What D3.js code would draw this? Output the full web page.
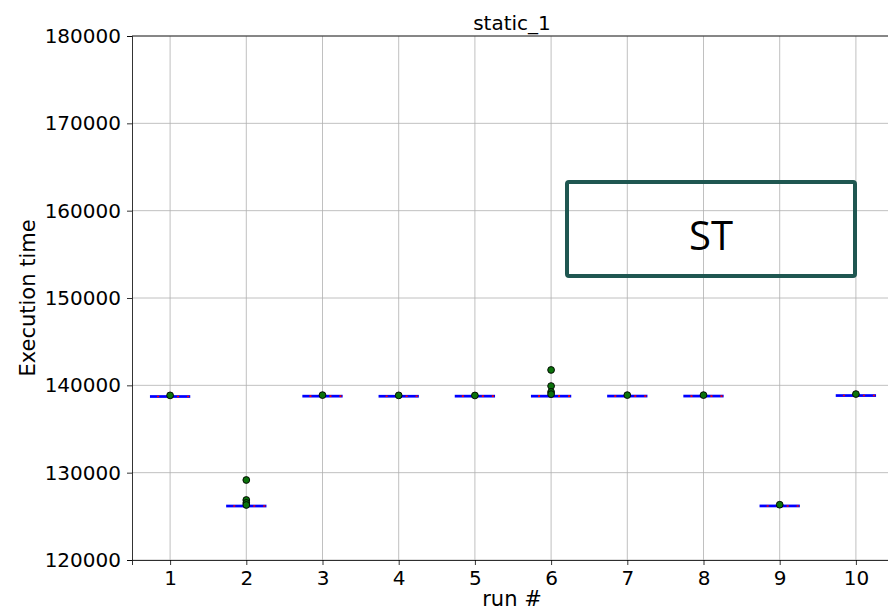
<!DOCTYPE html>
<html>
<head>
<meta charset="utf-8">
<script src="https://cdn.jsdelivr.net/npm/d3@7"></script>
<style>
  body { margin: 0; background: #fff; }
  svg { font-family: "DejaVu Sans", sans-serif; }
</style>
</head>
<body>
<svg id="chart" width="888" height="612"></svg>
<script>
// data
let runs = [1, 2, 3, 4, 5, 6, 7, 8, 9, 10];
let q1 = [138690, 126150, 138730, 138720, 138730, 138730, 138740, 138740, 126160, 138800];
let medians = [138720, 126180, 138760, 138750, 138760, 138760, 138770, 138770, 126190, 138830];
let q3 = [138750, 126210, 138790, 138780, 138790, 138790, 138800, 138800, 126220, 138860];
let fliers = [
    [138850],
    [129160, 126870, 126530, 126300],
    [138880],
    [138850],
    [138840],
    [141760, 139920, 139240, 138990],
    [138880],
    [138880],
    [126330],
    [139000]
];
let yTicks = [120000, 130000, 140000, 150000, 160000, 170000, 180000];

const svg = d3.select("#chart");
let margins = {left: 132, right: 894, top: 36, bottom: 560};

const xScale = d3.scaleLinear().domain([0.5, 10.5]).range([margins.left, margins.right]);
const yScale = d3.scaleLinear().domain([120000, 180000]).range([margins.bottom, margins.top]);

// grid
svg.append("g")
   .selectAll("line")
   .data(runs)
   .enter()
   .append("line")
   .attr("x1", d => xScale(d)).attr("x2", d => xScale(d))
   .attr("y1", margins.top).attr("y2", margins.bottom)
   .style("stroke", "#b0b0b0").style("stroke-width", 0.8);
svg.append("g")
   .selectAll("line")
   .data(yTicks)
   .enter()
   .append("line")
   .attr("x1", margins.left).attr("x2", margins.right)
   .attr("y1", d => yScale(d)).attr("y2", d => yScale(d))
   .style("stroke", "#b0b0b0").style("stroke-width", 0.8);

// axes
const xAxis = svg.append("g")
   .attr("transform", `translate(0,${margins.bottom})`)
   .call(d3.axisBottom(xScale).tickValues(runs).tickSize(5).tickPadding(6).tickFormat(d3.format("d")));
const yAxis = svg.append("g")
   .attr("transform", `translate(${margins.left},0)`)
   .call(d3.axisLeft(yScale).tickValues(yTicks).tickSize(5).tickPadding(6).tickFormat(d3.format("d")));
[xAxis, yAxis].forEach(a => {
    a.selectAll("text").style("font-size", "20px").style("fill", "#000").style("font-family", "DejaVu Sans");
    a.selectAll("line").style("stroke", "#000").style("stroke-width", 0.8);
    a.select(".domain").style("stroke", "#000").style("stroke-width", 0.8);
});
// top spine
svg.append("line")
   .attr("x1", margins.left).attr("x2", margins.right)
   .attr("y1", margins.top).attr("y2", margins.top)
   .style("stroke", "#000").style("stroke-width", 0.8);

// boxes
const halfW = 0.25;
const boxes = svg.append("g");
runs.forEach((r, i) => {
    boxes.append("rect")
         .attr("x", xScale(r - halfW))
         .attr("y", yScale(q3[i]))
         .attr("width", xScale(r + halfW) - xScale(r - halfW))
         .attr("height", Math.max(yScale(q1[i]) - yScale(q3[i]), 0.5))
         .style("fill", "none")
         .style("stroke", "blue")
         .style("stroke-width", 2.2);
    boxes.append("line")
         .attr("x1", xScale(r - halfW)).attr("x2", xScale(r + halfW))
         .attr("y1", yScale(medians[i])).attr("y2", yScale(medians[i]))
         .style("stroke", "red").style("stroke-width", 1.6)
         .style("stroke-dasharray", "2,8")
         .style("stroke-dashoffset", -6);
    boxes.selectAll(null)
         .data(fliers[i])
         .enter()
         .append("circle")
         .attr("cx", xScale(r))
         .attr("cy", d => yScale(d))
         .attr("r", 3.4)
         .style("fill", "#0b720b")
         .style("stroke", "#000")
         .style("stroke-width", 0.9);
});

// title + labels
svg.append("text")
   .attr("x", 512).attr("y", 30)
   .attr("text-anchor", "middle")
   .style("font-size", "20px")
   .text("static_1");
svg.append("text")
   .attr("x", 512).attr("y", 606)
   .attr("text-anchor", "middle")
   .style("font-size", "21px")
   .text("run #");
svg.append("text")
   .attr("transform", `translate(35,${(margins.top + margins.bottom) / 2}) rotate(-90)`)
   .attr("text-anchor", "middle")
   .style("font-size", "21px")
   .text("Execution time");

// ST annotation box
svg.append("rect")
   .attr("x", 567).attr("y", 182)
   .attr("width", 288).attr("height", 94)
   .attr("rx", 2)
   .style("fill", "none")
   .style("stroke", "#1f5751")
   .style("stroke-width", 4);
svg.append("text")
   .attr("x", 711).attr("y", 250)
   .attr("text-anchor", "middle")
   .style("font-size", "40px")
   .style("font-family", "Open Sans")
   .text("ST");
</script>
</body>
</html>
